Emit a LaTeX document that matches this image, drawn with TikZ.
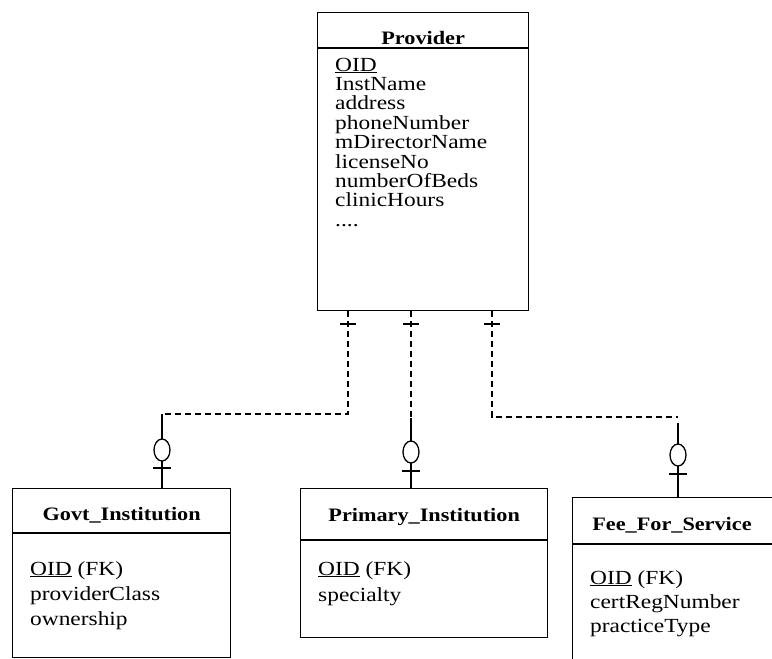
\documentclass[tikz,border=0pt]{standalone}
\usepackage{fontspec}
\setmainfont[FakeStretch=1.17]{Liberation Serif}
\usetikzlibrary{positioning}

\newcommand{\moreattrs}{....}

\tikzset{
  entity/.style={draw, line width=1.3pt, anchor=north west, inner sep=0pt},
  title/.style={anchor=base, inner sep=0pt, font=\fontsize{19}{19}\selectfont\bfseries},
  attr/.style={anchor=base west, inner sep=0pt, font=\fontsize{20}{20}\selectfont},
  rel/.style={line width=1.3pt, dash pattern=on 6pt off 4pt},
  card/.style={line width=1.3pt}
}

\begin{document}
\begin{tikzpicture}[x=1pt, y=-1pt]
\useasboundingbox (0,0) rectangle (772,659);
\clip (0,0) rectangle (772,659);

%the entity boxes
\node[entity, minimum width=211pt, minimum height=298pt] (provider) at (317,12) {};
\node[entity, minimum width=218pt, minimum height=169pt] (govt) at (12,488) {};
\node[entity, minimum width=247pt, minimum height=149pt] (primary) at (300,488) {};
\node[entity, minimum width=240pt, minimum height=220pt] (fee) at (572,497) {};

%header lines
\draw[line width=1.3pt] (provider.west |- 0,48) -- (provider.east |- 0,48);
\draw[line width=1.3pt] (govt.west |- 0,533) -- (govt.east |- 0,533);
\draw[line width=1.3pt] (primary.west |- 0,540) -- (primary.east |- 0,540);
\draw[line width=1.3pt] (fee.west |- 0,544) -- (fee.east |- 0,544);

%titles
\node[title] (providertitle) at (provider.north |- 0,44) {Provider};
\node[title] (govttitle) at (govt.north |- 0,520) {Govt\_Institution};
\node[title] (primarytitle) at (primary.north |- 0,521) {Primary\_Institution};
\node[title] (feetitle) at (672,530) {Fee\_For\_Service};

%attributes
\foreach \t [count=\i] in {\underline{OID}, InstName, address, phoneNumber, mDirectorName, licenseNo, numberOfBeds, clinicHours, \moreattrs}
  \node[attr] (prov-\i) at (335,{51.6+19.4*\i}) {\t};
\foreach \t [count=\i] in {\underline{OID} (FK), providerClass, ownership}
  \node[attr] (govt-\i) at (30,{550+25*\i}) {\t};
\foreach \t [count=\i] in {\underline{OID} (FK), specialty}
  \node[attr] (primary-\i) at (318,{549+26*\i}) {\t};
\foreach \t [count=\i] in {\underline{OID} (FK), certRegNumber, practiceType}
  \node[attr] (fee-\i) at (590,{560+24*\i}) {\t};

%bend points of the relationships
\coordinate (dropL) at (348,414);
\coordinate (bendL) at (162,414);
\coordinate (dropM) at (411,418);
\coordinate (dropR) at (492,417);
\coordinate (bendR) at (678,417);

%relationship lines
\draw[rel] (provider.south -| dropL) -- (dropL) -- (bendL);
\draw[card] (bendL) -- (bendL |- govt.north);
\draw[rel] (provider.south -| dropM) -- (dropM);
\draw[card] (dropM) -- (dropM |- primary.north);
\draw[rel] (provider.south -| dropR) -- (dropR) -- (bendR);
\draw[card] (678,423) -- (bendR |- fee.north);

%one marks at the provider side
\draw[card] (340,324) -- (356,324);
\draw[card] (403,324) -- (419,324);
\draw[card] (484,324) -- (500,324);

%zero or one marks at the child side
\draw[card, fill=white] (162,450) ellipse (8 and 11);
\draw[card] (153,468) -- (171,468);
\draw[card, fill=white] (411,452) ellipse (8 and 11);
\draw[card] (402,471) -- (420,471);
\draw[card, fill=white] (678,455) ellipse (8 and 11);
\draw[card] (669,474) -- (687,474);

\end{tikzpicture}
\end{document}
